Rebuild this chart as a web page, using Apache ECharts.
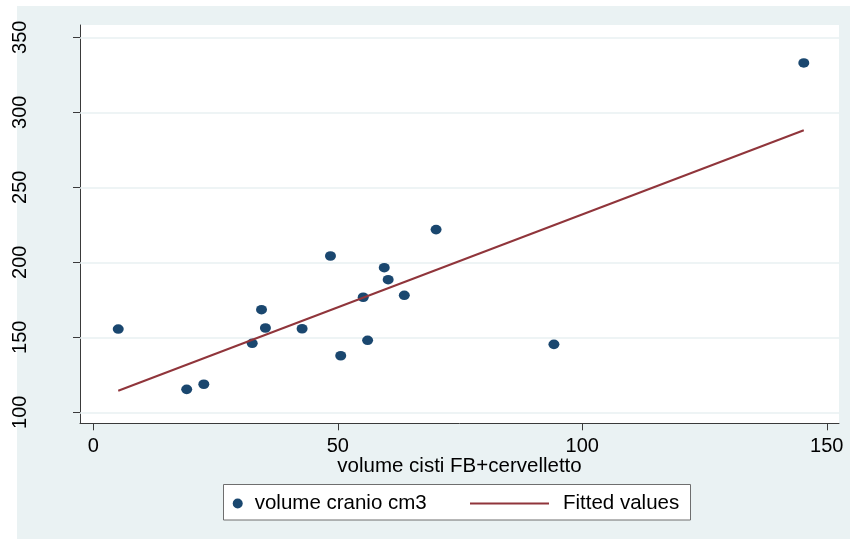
<!DOCTYPE html>
<html>
<head>
<meta charset="utf-8">
<script src="https://cdn.jsdelivr.net/npm/echarts@6/dist/echarts.min.js"></script>
<style>
html,body{margin:0;padding:0;background:#ffffff;}
#chart{width:850px;height:539px;}
</style>
</head>
<body>
<div id="chart"></div>
<script>
// ---- data ----
const xValues = [5.1, 19.1, 22.6, 32.5, 34.4, 35.2, 42.7, 48.5, 50.6, 55.2, 56.1, 59.5, 60.3, 63.6, 70.1, 94.2, 145.3];
const yValues = [155.5, 115.3, 118.7, 146, 168.4, 156.2, 155.7, 204.2, 137.7, 176.7, 148, 196.4, 188.4, 178, 221.8, 145.3, 332.9];
const fitX = [5.1, 145.3];
const fitY = [114.4, 288];
const xTicks = [0, 50, 100, 150];
const yTicks = [100, 150, 200, 250, 300, 350];
const seriesNames = ['volume cranio cm3', 'Fitted values'];
const xTitle = 'volume cisti FB+cervelletto';

const FONT = '"Liberation Sans", Arial, sans-serif';
const chart = echarts.init(document.getElementById('chart'), null, {renderer: 'canvas'});

const scatterData = xValues.map((x, i) => [x, yValues[i]]);
const fitData = fitX.map((x, i) => [x, fitY[i]]);

const option = {
  animation: false,
  backgroundColor: 'transparent',
  graphic: [
    {type: 'rect', z: -10, silent: true, shape: {x: 17, y: 6, width: 833, height: 533}, style: {fill: '#eaf2f3'}},
    {type: 'rect', z: -1, silent: true, shape: {x: 223.5, y: 484.5, width: 467, height: 35.5}, style: {fill: '#ffffff', stroke: '#6e6e6e', lineWidth: 1}}
  ],
  grid: {
    left: 80, right: 11, top: 25, bottom: 115.7,
    show: true, backgroundColor: '#ffffff', borderWidth: 0
  },
  xAxis: {
    type: 'value',
    min: -2.72, max: 152.5,
    name: xTitle,
    nameLocation: 'middle',
    nameGap: 33,
    nameMoveOverlap: false,
    nameTextStyle: {fontFamily: FONT, fontSize: 20.5, color: '#000'},
    axisLine: {show: true, onZero: false, lineStyle: {color: '#3a3a3a', width: 1}},
    axisTick: {show: true, length: 7, customValues: xTicks, lineStyle: {color: '#3a3a3a'}},
    axisLabel: {show: true, customValues: xTicks, margin: 13, fontFamily: FONT, fontSize: 20, color: '#000'},
    splitLine: {show: false}
  },
  yAxis: {
    type: 'value',
    min: 92.67, max: 358.2,
    axisLine: {show: true, onZero: false, lineStyle: {color: '#3a3a3a', width: 1}},
    axisTick: {show: true, length: 7, customValues: yTicks, lineStyle: {color: '#3a3a3a'}},
    axisLabel: {show: true, customValues: yTicks, rotate: 90, margin: 50, fontFamily: FONT, fontSize: 20, color: '#000'},
    splitLine: {show: false}
  },
  legend: [
    {
      data: [{name: seriesNames[0], icon: 'circle'}],
      left: 232.7, top: 493, padding: 0,
      itemWidth: 24, itemHeight: 10,
      textStyle: {fontFamily: FONT, fontSize: 20.5, color: '#000'}
    },
    {
      data: [{name: seriesNames[1], icon: 'rect'}],
      left: 470, top: 493, padding: 0,
      itemWidth: 79, itemHeight: 2,
      textStyle: {fontFamily: FONT, fontSize: 20.5, color: '#000', padding: [0, 0, 0, 9]}
    }
  ],
  series: [
    {
      name: seriesNames[0],
      type: 'scatter',
      data: scatterData,
      symbol: 'circle',
      symbolSize: [11, 9.6],
      itemStyle: {color: '#1a476f', opacity: 1},
      markLine: {
        silent: true,
        z: 1,
        symbol: ['none', 'none'],
        label: {show: false},
        lineStyle: {color: '#e8f0f2', width: 1.6, type: 'solid'},
        emphasis: {disabled: true},
        data: yTicks.map(v => ({yAxis: v}))
      }
    },
    {
      name: seriesNames[1],
      type: 'line',
      data: fitData,
      symbol: 'none',
      showSymbol: false,
      lineStyle: {color: '#90353b', width: 2},
      itemStyle: {color: '#90353b'}
    }
  ]
};
chart.setOption(option);
</script>
</body>
</html>
